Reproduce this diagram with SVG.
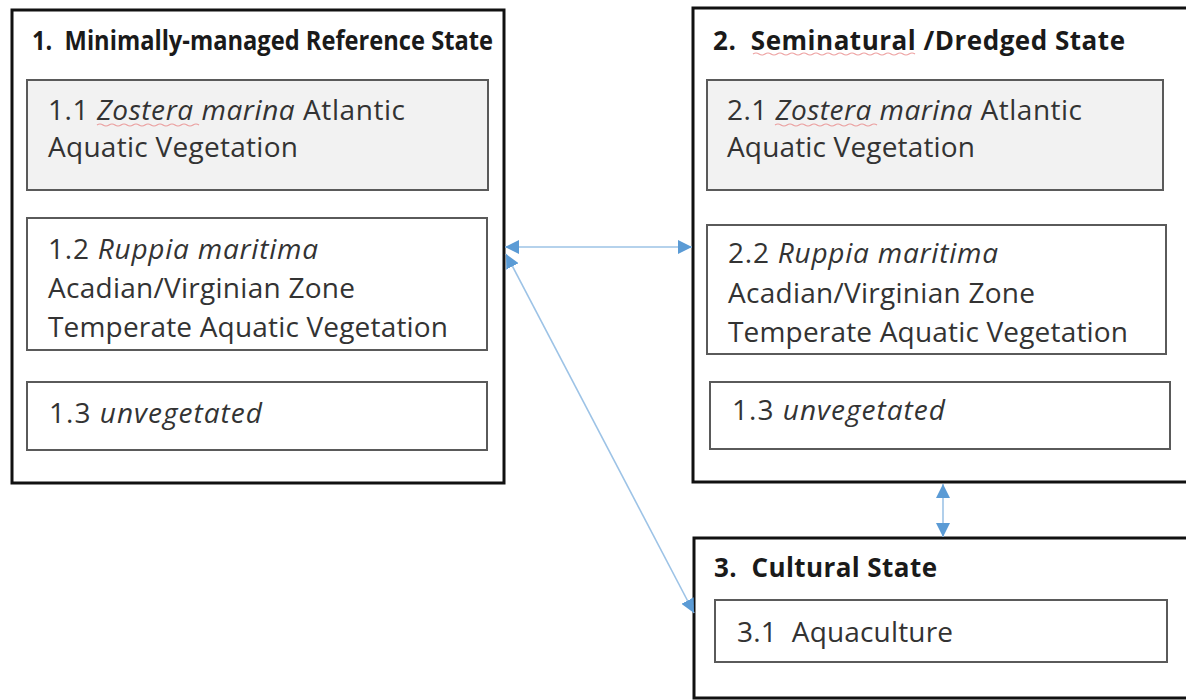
<svg xmlns="http://www.w3.org/2000/svg" width="1186" height="700" viewBox="0 0 1186 700">
  <style>
    .outer { fill: #ffffff; stroke: #111111; stroke-width: 3; }
    .inner { fill: #ffffff; stroke: #5a5a5a; stroke-width: 2; }
    .gray { fill: #f2f2f2; }
    text { white-space: pre; font-variant-ligatures: none; }
    .title { font-family: "Open Sans", "Liberation Sans", sans-serif; font-weight: bold; font-size: 26px; fill: #1a1a1a; }
    .body { font-family: "Open Sans", "Liberation Sans", sans-serif; font-size: 28px; fill: #333333; }
    .it { font-style: italic; }
    .conn { stroke: #9dc3e6; stroke-width: 1.6; fill: none; }
    .squig { stroke: #e88a8a; stroke-width: 1.2; fill: none; opacity: 0.8; }
  </style>
  <defs>
    <marker id="arrow" markerUnits="userSpaceOnUse" markerWidth="16" markerHeight="14" refX="14" refY="7" orient="auto-start-reverse">
      <path d="M0,0 L14,7 L0,14 z" fill="#5b9bd5"/>
    </marker>
  </defs>
  <rect width="1186" height="700" fill="#ffffff"/>

  <g id="state1">
    <rect class="outer" x="12" y="10" width="492" height="473"/>
    <text class="title" x="32" y="50" textLength="461" lengthAdjust="spacingAndGlyphs">1.  Minimally-managed Reference State</text>
  </g>
  <g id="node1-1">
    <rect class="inner gray" x="27" y="80" width="461" height="110"/>
    <text class="body" x="48" y="120" textLength="357">1.1 <tspan class="it">Zostera marina</tspan> Atlantic</text>
    <text class="body" x="48" y="157" textLength="250">Aquatic Vegetation</text>
    <path class="squig" d="M97,125 q3,-2 6,0 t6,0 t6,0 t6,0 t6,0 t6,0 t6,0 t6,0 t6,0 t6,0 t6,0 t6,0 t6,0 t6,0 t6,0 t6,0 t6,0"/>
  </g>
  <g id="node1-2">
    <rect class="inner" x="27" y="218" width="460" height="132"/>
    <text class="body" x="48" y="259" textLength="270">1.2 <tspan class="it">Ruppia maritima</tspan></text>
    <text class="body" x="48" y="298" textLength="307">Acadian/Virginian Zone</text>
    <text class="body" x="48" y="337" textLength="400">Temperate Aquatic Vegetation</text>
  </g>
  <g id="node1-3">
    <rect class="inner" x="27" y="382" width="460" height="68"/>
    <text class="body" x="49" y="423" textLength="213">1.3 <tspan class="it">unvegetated</tspan></text>
  </g>

  <g id="state2">
    <rect class="outer" x="693" y="8" width="500" height="474"/>
    <text class="title" x="713" y="50" textLength="412">2.  Seminatural /Dredged State</text>
    <path class="squig" d="M753,54 q3,-2 6,0 t6,0 t6,0 t6,0 t6,0 t6,0 t6,0 t6,0 t6,0 t6,0 t6,0 t6,0 t6,0 t6,0 t6,0 t6,0 t6,0 t6,0 t6,0 t6,0 t6,0 t6,0 t6,0 t6,0 t6,0 t6,0 t6,0"/>
  </g>
  <g id="node2-1">
    <rect class="inner gray" x="707" y="80" width="456" height="110"/>
    <text class="body" x="727" y="120" textLength="355">2.1 <tspan class="it">Zostera marina</tspan> Atlantic</text>
    <text class="body" x="727" y="157" textLength="248">Aquatic Vegetation</text>
    <path class="squig" d="M775,125 q3,-2 6,0 t6,0 t6,0 t6,0 t6,0 t6,0 t6,0 t6,0 t6,0 t6,0 t6,0 t6,0 t6,0 t6,0 t6,0 t6,0 t6,0"/>
  </g>
  <g id="node2-2">
    <rect class="inner" x="707" y="225" width="459" height="129"/>
    <text class="body" x="728" y="263" textLength="270">2.2 <tspan class="it">Ruppia maritima</tspan></text>
    <text class="body" x="728" y="303" textLength="307">Acadian/Virginian Zone</text>
    <text class="body" x="728" y="342" textLength="400">Temperate Aquatic Vegetation</text>
  </g>
  <g id="node2-3">
    <rect class="inner" x="710" y="382" width="460" height="67"/>
    <text class="body" x="732" y="420" textLength="213">1.3 <tspan class="it">unvegetated</tspan></text>
  </g>

  <g id="state3">
    <rect class="outer" x="694" y="538" width="500" height="160"/>
    <text class="title" x="714" y="577" textLength="223">3.  Cultural State</text>
  </g>
  <g id="node3-1">
    <rect class="inner" x="715" y="600" width="452" height="62"/>
    <text class="body" x="737" y="642" textLength="216">3.1  Aquaculture</text>
  </g>

  <g id="connectors">
    <line class="conn" x1="505" y1="247" x2="692" y2="247" marker-start="url(#arrow)" marker-end="url(#arrow)"/>
    <line class="conn" x1="506" y1="254" x2="694" y2="613" marker-start="url(#arrow)" marker-end="url(#arrow)"/>
    <line class="conn" x1="943" y1="484" x2="943" y2="537" marker-start="url(#arrow)" marker-end="url(#arrow)"/>
  </g>
</svg>
